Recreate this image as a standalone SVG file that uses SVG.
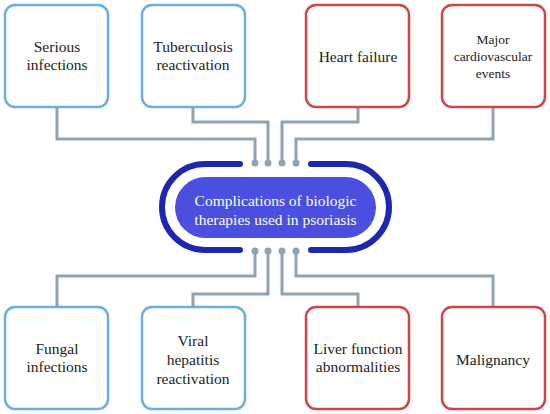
<svg xmlns="http://www.w3.org/2000/svg" width="550" height="414" viewBox="0 0 550 414">
<style>
.box{fill:#fff;stroke-width:2.5}
.blue{stroke:#6aaee6}
.red{stroke:#d0454a}
.t{font-family:'Liberation Serif','DejaVu Serif',serif;font-size:15.5px;fill:#222;text-anchor:middle}
.sm{font-size:13.5px}
.conn{fill:none;stroke:#8fa3b5;stroke-width:3}
.dot{fill:#8fa3b5}
.brk{fill:none;stroke:#1f27b0;stroke-width:6;stroke-linecap:round}
.ct{font-family:'Liberation Serif','DejaVu Serif',serif;font-size:15.5px;fill:#fff;text-anchor:middle}
</style>
<rect width="550" height="414" fill="#fff"/>
<g id="connectors">
<path class="conn" d="M57 99 V139 H255 V163"/>
<path class="conn" d="M193 99 V122 H268 V163"/>
<path class="conn" d="M358 99 V122 H282 V163"/>
<path class="conn" d="M493 99 V139 H296 V163"/>
<path class="conn" d="M57 315 V276 H255 V251"/>
<path class="conn" d="M193 315 V294 H268 V251"/>
<path class="conn" d="M358 315 V294 H282 V251"/>
<path class="conn" d="M493 315 V276 H296 V251"/>
<g class="dot">
<circle cx="57" cy="99" r="3.5"/><circle cx="193" cy="99" r="3.5"/><circle cx="358" cy="99" r="3.5"/><circle cx="493" cy="99" r="3.5"/>
<circle cx="255" cy="163" r="3.5"/><circle cx="268" cy="163" r="3.5"/><circle cx="282" cy="163" r="3.5"/><circle cx="296" cy="163" r="3.5"/>
<circle cx="57" cy="315" r="3.5"/><circle cx="193" cy="315" r="3.5"/><circle cx="358" cy="315" r="3.5"/><circle cx="493" cy="315" r="3.5"/>
<circle cx="255" cy="251" r="3.5"/><circle cx="268" cy="251" r="3.5"/><circle cx="282" cy="251" r="3.5"/><circle cx="296" cy="251" r="3.5"/>
</g>
</g>
<g id="center">
<path class="brk" d="M240 164 H205 A43 43 0 0 0 205 250 H240"/>
<path class="brk" d="M311 164 H346 A43 43 0 0 1 346 250 H311"/>
<rect x="175" y="177" width="201" height="61" rx="30.5" fill="#4a4fe0"/>
<text class="ct" x="275.5" y="206">Complications of biologic</text>
<text class="ct" x="275.5" y="225">therapies used in psoriasis</text>
</g>
<g id="serious">
<rect class="box blue" x="5" y="5" width="103" height="102" rx="10"/>
<text class="t" x="57" y="52">Serious</text>
<text class="t" x="57" y="70">infections</text>
</g>
<g id="tuberculosis">
<rect class="box blue" x="142" y="5" width="103" height="102" rx="10"/>
<text class="t" x="193" y="52">Tuberculosis</text>
<text class="t" x="193" y="70">reactivation</text>
</g>
<g id="heart">
<rect class="box red" x="306" y="5" width="103" height="102" rx="10"/>
<text class="t" x="358" y="62">Heart failure</text>
</g>
<g id="cardio">
<rect class="box red" x="442" y="5" width="103" height="102" rx="10"/>
<text class="t sm" x="493" y="44">Major</text>
<text class="t sm" x="493" y="61">cardiovascular</text>
<text class="t sm" x="493" y="78">events</text>
</g>
<g id="fungal">
<rect class="box blue" x="5" y="307" width="103" height="102" rx="10"/>
<text class="t" x="57" y="354">Fungal</text>
<text class="t" x="57" y="372">infections</text>
</g>
<g id="viral">
<rect class="box blue" x="142" y="307" width="103" height="102" rx="10"/>
<text class="t" x="193" y="346">Viral</text>
<text class="t" x="193" y="365">hepatitis</text>
<text class="t" x="193" y="384">reactivation</text>
</g>
<g id="liver">
<rect class="box red" x="306" y="307" width="103" height="102" rx="10"/>
<text class="t" x="358" y="354">Liver function</text>
<text class="t" x="358" y="372">abnormalities</text>
</g>
<g id="malignancy">
<rect class="box red" x="442" y="307" width="103" height="102" rx="10"/>
<text class="t" x="493" y="365">Malignancy</text>
</g>
</svg>
